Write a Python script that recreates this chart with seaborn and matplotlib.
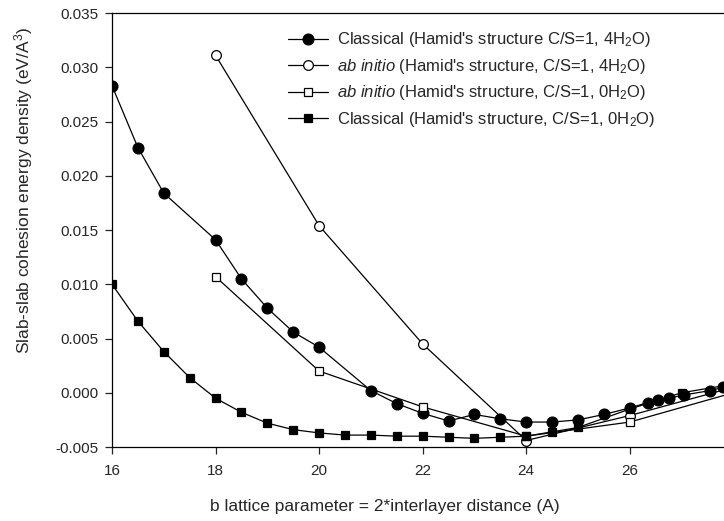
import numpy as np
import pandas as pd
import seaborn as sns
import matplotlib
matplotlib.use("Agg")
import matplotlib.pyplot as plt

# data
x_cl4 = [16, 16.5, 17, 18, 18.5, 19, 19.5, 20, 21, 21.5, 22, 22.5, 23, 23.5,
         24, 24.5, 25, 25.5, 26, 26.35, 26.55, 26.75, 27.05, 27.55, 27.8]
y_cl4 = [0.0283, 0.0226, 0.0184, 0.0141, 0.0105, 0.0078, 0.0056, 0.0042, 0.0002,
         -0.0010, -0.0019, -0.0026, -0.0020, -0.0024, -0.0027, -0.0027, -0.0025,
         -0.0020, -0.0014, -0.0009, -0.0007, -0.0005, -0.0002, 0.0002, 0.0005]

x_ab4 = [18, 20, 22, 24, 26, 28]
y_ab4 = [0.0311, 0.0154, 0.0045, -0.0044, -0.0021, 0.0005]

x_ab0 = [18, 20, 22, 24, 26, 28]
y_ab0 = [0.0107, 0.0020, -0.0013, -0.0040, -0.0027, 0.0000]

x_cl0 = [16, 16.5, 17, 17.5, 18, 18.5, 19, 19.5, 20, 20.5, 21, 21.5, 22, 22.5,
         23, 23.5, 24, 24.5, 25, 26, 27, 28]
y_cl0 = [0.0100, 0.0066, 0.0038, 0.0014, -0.0005, -0.0018, -0.0028, -0.0034,
         -0.0037, -0.0039, -0.0039, -0.0040, -0.0040, -0.0041, -0.0042, -0.0041,
         -0.0040, -0.0036, -0.0032, -0.0015, 0.0000, 0.0008]

labels = ["Classical (Hamid's structure C/S=1, 4H$_2$O)",
          "$\\it{ab\\ initio}$ (Hamid's structure, C/S=1, 4H$_2$O)",
          "$\\it{ab\\ initio}$ (Hamid's structure, C/S=1, 0H$_2$O)",
          "Classical (Hamid's structure, C/S=1, 0H$_2$O)"]

sns.set_style("ticks")
plt.rcParams['font.family'] = ['Liberation Sans', 'DejaVu Sans']
plt.rcParams['mathtext.fontset'] = 'custom'
plt.rcParams['mathtext.rm'] = 'Liberation Sans'
plt.rcParams['mathtext.it'] = 'Liberation Sans:italic'

fig = plt.figure(figsize=(7.24, 5.21), dpi=100)
ax = fig.add_axes([0.1547, 0.142, 0.8453, 0.833])

series = [(x_cl4, y_cl4, 'o', 'black', 7.8),
          (x_ab4, y_ab4, 'o', 'white', 7.0),
          (x_ab0, y_ab0, 's', 'white', 5.2),
          (x_cl0, y_cl0, 's', 'black', 5.2)]

for (xs, ys, mk, fc, ms), lab in zip(series, labels):
    df = pd.DataFrame({'x': xs, 'y': ys})
    sns.lineplot(data=df, x='x', y='y', ax=ax, color='black', linewidth=0.9,
                 marker=mk, markersize=ms, markerfacecolor=fc,
                 markeredgecolor='black', markeredgewidth=0.9, label=lab)

ax.set_xlim(16, 27.82)
ax.set_ylim(-0.005, 0.035)
ax.set_xticks([16, 18, 20, 22, 24, 26])
ax.set_yticks(np.arange(-0.005, 0.0351, 0.005))
ax.yaxis.set_major_formatter(matplotlib.ticker.FormatStrFormatter('%.3f'))
ax.tick_params(direction='out', length=5, width=0.9, labelsize=11, pad=5)
ax.tick_params(axis='x', pad=7)
for s in ['left', 'bottom', 'top']:
    ax.spines[s].set_linewidth(0.9)
    ax.spines[s].set_color('black')
ax.spines['right'].set_visible(False)

ax.set_xlabel("b lattice parameter = 2*interlayer distance (A)", fontsize=12.5)
ax.xaxis.set_label_coords(0.446, -0.12)
ax.set_ylabel("Slab-slab cohesion energy density (eV/A$^3$)", fontsize=12.5)
ax.yaxis.set_label_coords(-0.126, 0.592)

ax.legend(loc='upper left', bbox_to_anchor=(0.287, 0.960), frameon=False,
          fontsize=12, handlelength=2.4, handletextpad=0.55, labelspacing=0.45,
          borderpad=0, borderaxespad=0)

fig.savefig("out.png", dpi=100)
